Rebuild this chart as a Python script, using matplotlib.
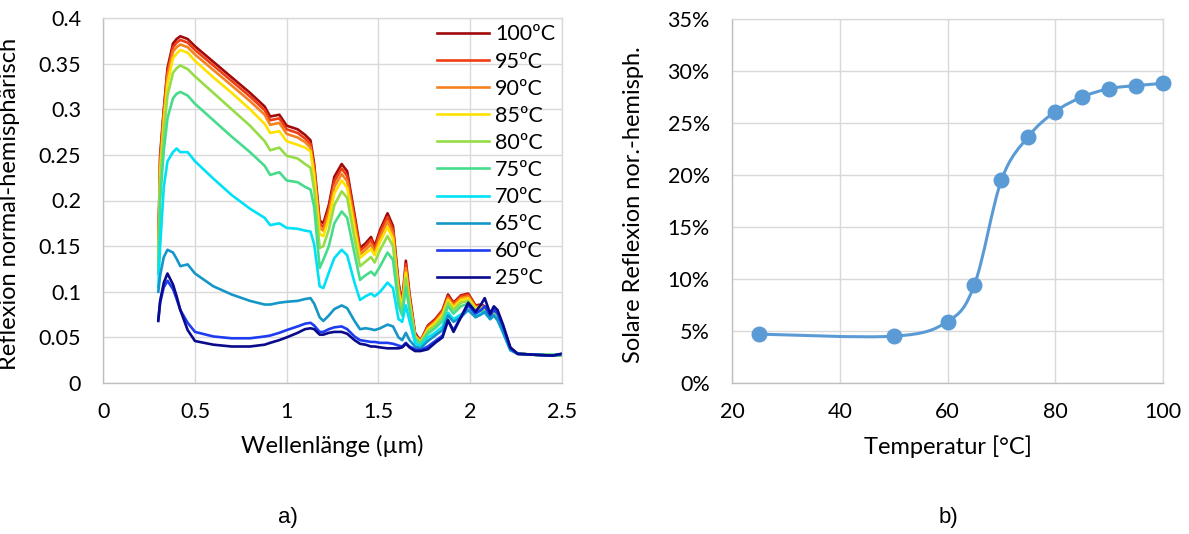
import numpy as np
import matplotlib
matplotlib.use("Agg")
import matplotlib.pyplot as plt
from matplotlib.path import Path
from matplotlib.patches import PathPatch

plt.rcParams['font.family'] = ['Lato', 'DejaVu Sans']

# Spektren: Wellenlänge in µm
wellenlaenge = [0.30, 0.31, 0.33, 0.35, 0.38, 0.40, 0.42, 0.46, 0.50, 0.60, 0.70, 0.80, 0.88, 0.91,
                0.96, 1.00, 1.06, 1.10, 1.13, 1.15, 1.18, 1.20, 1.23, 1.26, 1.30, 1.33, 1.37, 1.40,
                1.43, 1.46, 1.48, 1.51, 1.55, 1.58, 1.61, 1.63, 1.65, 1.67, 1.70, 1.73, 1.77, 1.81,
                1.85, 1.88, 1.91, 1.95, 1.99, 2.03, 2.06, 2.08, 2.11, 2.13, 2.15, 2.18, 2.22, 2.26,
                2.35, 2.45, 2.50]

r100 = [0.150, 0.250, 0.300, 0.345, 0.372, 0.377, 0.380, 0.377, 0.369, 0.352, 0.335, 0.318, 0.303, 0.292,
        0.294, 0.282, 0.278, 0.272, 0.266, 0.240, 0.178, 0.175, 0.195, 0.226, 0.240, 0.232, 0.185, 0.148,
        0.153, 0.160, 0.150, 0.168, 0.186, 0.172, 0.110, 0.088, 0.134, 0.098, 0.055, 0.046, 0.063, 0.070,
        0.080, 0.097, 0.088, 0.096, 0.098, 0.085, 0.086, 0.084, 0.078, 0.080, 0.076, 0.060, 0.038, 0.032,
        0.031, 0.030, 0.031]
r95 = [0.145, 0.245, 0.297, 0.341, 0.368, 0.373, 0.376, 0.373, 0.365, 0.348, 0.331, 0.314, 0.299, 0.288,
       0.290, 0.278, 0.274, 0.268, 0.262, 0.236, 0.174, 0.171, 0.191, 0.221, 0.235, 0.227, 0.181, 0.145,
       0.150, 0.157, 0.147, 0.165, 0.182, 0.168, 0.107, 0.086, 0.130, 0.095, 0.053, 0.046, 0.062, 0.069,
       0.079, 0.095, 0.087, 0.095, 0.097, 0.084, 0.085, 0.083, 0.077, 0.079, 0.075, 0.059, 0.038, 0.032,
       0.031, 0.030, 0.031]
r90 = [0.140, 0.240, 0.293, 0.336, 0.363, 0.368, 0.371, 0.368, 0.360, 0.343, 0.326, 0.309, 0.294, 0.283,
       0.285, 0.273, 0.269, 0.264, 0.258, 0.232, 0.170, 0.167, 0.186, 0.215, 0.229, 0.221, 0.176, 0.141,
       0.146, 0.152, 0.143, 0.160, 0.177, 0.163, 0.104, 0.084, 0.126, 0.092, 0.052, 0.045, 0.060, 0.067,
       0.077, 0.093, 0.085, 0.093, 0.095, 0.083, 0.084, 0.082, 0.076, 0.078, 0.074, 0.059, 0.038, 0.032,
       0.031, 0.030, 0.031]
r85 = [0.135, 0.230, 0.285, 0.328, 0.356, 0.361, 0.365, 0.362, 0.353, 0.335, 0.318, 0.300, 0.284, 0.274,
       0.276, 0.265, 0.261, 0.258, 0.254, 0.227, 0.163, 0.161, 0.180, 0.208, 0.222, 0.214, 0.169, 0.137,
       0.142, 0.147, 0.140, 0.155, 0.171, 0.158, 0.100, 0.082, 0.121, 0.089, 0.051, 0.045, 0.059, 0.066,
       0.075, 0.091, 0.083, 0.091, 0.093, 0.082, 0.083, 0.081, 0.075, 0.077, 0.073, 0.058, 0.037, 0.032,
       0.031, 0.030, 0.030]
r80 = [0.130, 0.220, 0.275, 0.315, 0.340, 0.345, 0.348, 0.344, 0.336, 0.318, 0.300, 0.282, 0.265, 0.255,
       0.258, 0.249, 0.246, 0.240, 0.236, 0.212, 0.148, 0.150, 0.168, 0.195, 0.210, 0.203, 0.158, 0.128,
       0.133, 0.138, 0.132, 0.146, 0.161, 0.150, 0.093, 0.078, 0.115, 0.085, 0.050, 0.044, 0.057, 0.063,
       0.072, 0.088, 0.080, 0.088, 0.090, 0.080, 0.081, 0.080, 0.074, 0.076, 0.072, 0.057, 0.037, 0.032,
       0.031, 0.031, 0.030]
r75 = [0.120, 0.200, 0.255, 0.290, 0.312, 0.317, 0.319, 0.315, 0.306, 0.288, 0.270, 0.253, 0.238, 0.228,
       0.231, 0.222, 0.220, 0.215, 0.212, 0.193, 0.126, 0.135, 0.150, 0.175, 0.188, 0.181, 0.142, 0.113,
       0.118, 0.122, 0.118, 0.128, 0.143, 0.135, 0.085, 0.074, 0.105, 0.080, 0.048, 0.043, 0.054, 0.060,
       0.068, 0.084, 0.076, 0.084, 0.087, 0.078, 0.079, 0.078, 0.072, 0.075, 0.071, 0.057, 0.037, 0.032,
       0.031, 0.031, 0.031]
r70 = [0.105, 0.150, 0.215, 0.243, 0.253, 0.257, 0.253, 0.253, 0.243, 0.224, 0.206, 0.191, 0.181, 0.173,
       0.175, 0.170, 0.169, 0.167, 0.166, 0.152, 0.106, 0.104, 0.121, 0.137, 0.146, 0.140, 0.110, 0.091,
       0.095, 0.098, 0.095, 0.100, 0.110, 0.104, 0.070, 0.067, 0.085, 0.068, 0.044, 0.040, 0.050, 0.055,
       0.062, 0.077, 0.070, 0.075, 0.080, 0.073, 0.076, 0.077, 0.070, 0.074, 0.069, 0.055, 0.036, 0.032,
       0.031, 0.030, 0.031]
r65 = [0.100, 0.118, 0.138, 0.146, 0.143, 0.136, 0.128, 0.130, 0.120, 0.106, 0.097, 0.090, 0.086, 0.086,
       0.088, 0.089, 0.090, 0.092, 0.093, 0.087, 0.072, 0.068, 0.074, 0.081, 0.085, 0.082, 0.068, 0.059,
       0.060, 0.059, 0.058, 0.060, 0.064, 0.062, 0.050, 0.047, 0.055, 0.047, 0.040, 0.038, 0.046, 0.052,
       0.058, 0.074, 0.067, 0.072, 0.080, 0.072, 0.075, 0.078, 0.070, 0.074, 0.069, 0.056, 0.036, 0.032,
       0.031, 0.030, 0.031]
r60 = [0.070, 0.088, 0.105, 0.112, 0.103, 0.092, 0.080, 0.066, 0.056, 0.051, 0.049, 0.049, 0.051, 0.052,
       0.055, 0.058, 0.062, 0.065, 0.066, 0.063, 0.056, 0.056, 0.059, 0.061, 0.062, 0.059, 0.051, 0.047,
       0.046, 0.045, 0.045, 0.044, 0.044, 0.043, 0.041, 0.040, 0.044, 0.040, 0.037, 0.036, 0.040, 0.046,
       0.052, 0.068, 0.058, 0.072, 0.085, 0.076, 0.080, 0.084, 0.074, 0.080, 0.076, 0.062, 0.038, 0.032,
       0.031, 0.030, 0.032]
r25 = [0.068, 0.090, 0.110, 0.120, 0.108, 0.095, 0.080, 0.058, 0.046, 0.042, 0.040, 0.040, 0.042, 0.044,
       0.047, 0.050, 0.055, 0.059, 0.060, 0.059, 0.053, 0.053, 0.055, 0.056, 0.056, 0.054, 0.047, 0.043,
       0.042, 0.040, 0.040, 0.039, 0.038, 0.038, 0.038, 0.039, 0.043, 0.039, 0.035, 0.035, 0.037, 0.044,
       0.050, 0.069, 0.056, 0.072, 0.088, 0.078, 0.086, 0.093, 0.076, 0.084, 0.080, 0.064, 0.039, 0.032,
       0.031, 0.030, 0.032]

kurven = [r100, r95, r90, r85, r80, r75, r70, r65, r60, r25]
namen = ["100ºC", "95ºC", "90ºC", "85ºC", "80ºC", "75ºC", "70ºC", "65ºC", "60ºC", "25ºC"]
farben = ["#A00A0A", "#F03C14", "#F5821E", "#FFE100", "#96DC46", "#46DC8C",
          "#00E1F5", "#1496C8", "#1E3CF0", "#0A0A8C"]

# Solare Reflexion über Temperatur
temperatur = [25, 50, 60, 65, 70, 75, 80, 85, 90, 95, 100]
solar = [4.7, 4.5, 5.9, 9.45, 19.5, 23.7, 26.1, 27.5, 28.3, 28.6, 28.8]

gitter = "#D9D9D9"
fs_tick = 15.5
fs_lab = 17

fig = plt.figure(figsize=(11.89, 5.34), dpi=100)

# --- a) Spektren ---
ax1 = fig.add_axes([103.3 / 1189, 1 - 383 / 534, 458.4 / 1189, 365 / 534])
for werte, name, farbe in zip(kurven, namen, farben):
    ax1.plot(wellenlaenge, werte, color=farbe, lw=1.9, label=name)
ax1.set_xlim(0, 2.5)
ax1.set_ylim(0, 0.4)
ax1.set_xticks([0, 0.5, 1, 1.5, 2, 2.5])
ax1.set_xticklabels(["0", "0.5", "1", "1.5", "2", "2.5"])
ax1.set_yticks(np.arange(0, 0.401, 0.05))
ax1.set_yticklabels(["0", "0.05", "0.1", "0.15", "0.2", "0.25", "0.3", "0.35", "0.4"])
ax1.set_xlabel("Wellenlänge (µm)", fontsize=fs_lab)
ax1.set_ylabel("Reflexion normal-hemisphärisch", fontsize=fs_lab)
ax1.yaxis.set_label_coords((20 - 103.3) / 458.4, 0.49)
ax1.xaxis.set_label_coords(0.5, -(435 - 383) / 365)
ax1.legend(loc="upper right", frameon=False, fontsize=fs_tick, handlelength=2.4,
           handletextpad=0.28, labelspacing=0.33, borderaxespad=0.0, borderpad=0.3,
           bbox_to_anchor=(1.0, 1.0))

# --- b) Solare Reflexion ---
ax2 = fig.add_axes([732 / 1189, 1 - 383 / 534, 431 / 1189, 364 / 534])
pts = np.column_stack([temperatur, solar])
ext = np.vstack([pts[0], pts, pts[-1]])
verts = [tuple(pts[0])]
codes = [Path.MOVETO]
for i in range(1, len(ext) - 2):
    p0, p1, p2, p3 = ext[i - 1], ext[i], ext[i + 1], ext[i + 2]
    verts += [tuple(p1 + (p2 - p0) / 6), tuple(p2 - (p3 - p1) / 6), tuple(p2)]
    codes += [Path.CURVE4] * 3
ax2.add_patch(PathPatch(Path(verts, codes), fill=False, edgecolor="#5B9BD5", lw=2.2))
ax2.plot(temperatur, solar, "o", color="#5B9BD5", ms=10.5, zorder=3, clip_on=False)
ax2.set_xlim(20, 100)
ax2.set_ylim(0, 35)
ax2.set_xticks([20, 40, 60, 80, 100])
ax2.set_yticks(np.arange(0, 36, 5))
ax2.set_yticklabels([f"{v}%" for v in range(0, 36, 5)])
ax2.set_xlabel("Temperatur [°C]", fontsize=fs_lab)
ax2.set_ylabel("Solare Reflexion nor.-hemisph.", fontsize=fs_lab)
ax2.yaxis.set_label_coords((644 - 732) / 431, 0.49)
ax2.xaxis.set_label_coords(0.5, -(435 - 383) / 364)

for ax in (ax1, ax2):
    ax.grid(True, color=gitter, lw=1.0)
    ax.set_axisbelow(True)
    ax.tick_params(length=0, labelsize=fs_tick)
    ax.tick_params(axis="y", pad=16)
    ax.tick_params(axis="x", pad=14)
    for s in ax.spines.values():
        s.set_color(gitter)
        s.set_linewidth(1.0)
    ax.spines["bottom"].set_color("#BFBFBF")
    ax.spines["left"].set_color("#BFBFBF")

fig.text(288 / 1189, 1 - 517 / 534, "a)", fontsize=16, ha="center", va="center",
         family=["Liberation Sans", "DejaVu Sans"])
fig.text(948 / 1189, 1 - 517 / 534, "b)", fontsize=16, ha="center", va="center",
         family=["Liberation Sans", "DejaVu Sans"])

fig.savefig("out.png", dpi=100)
